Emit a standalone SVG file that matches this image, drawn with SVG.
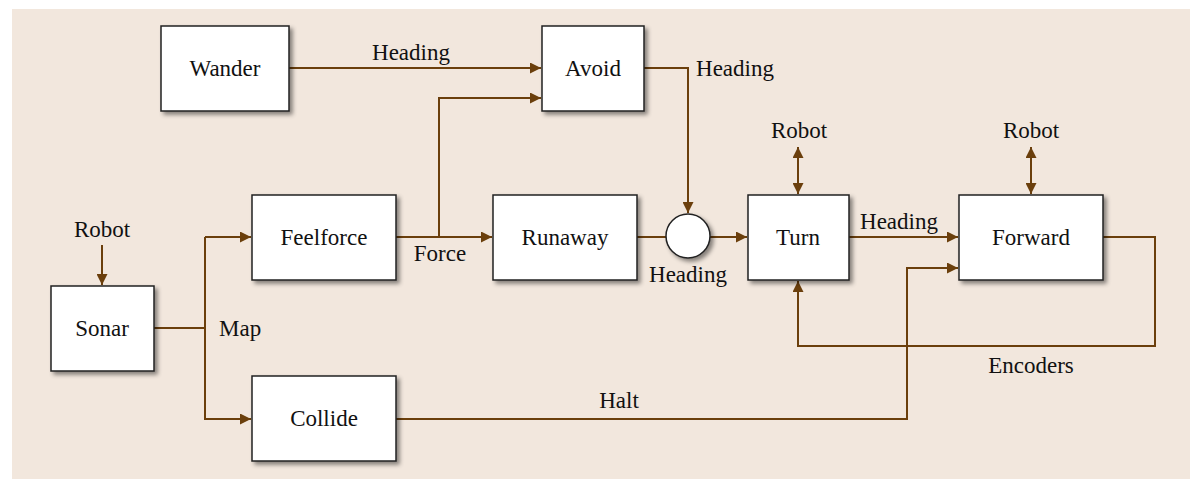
<svg xmlns="http://www.w3.org/2000/svg" width="1197" height="484" viewBox="0 0 1197 484">
<defs>
<filter id="sh" x="-10%" y="-10%" width="130%" height="130%">
<feDropShadow dx="3" dy="3" stdDeviation="2" flood-color="#000" flood-opacity="0.45"/>
</filter>
<marker id="ah" viewBox="0 0 10 10" markerWidth="11" markerHeight="11" markerUnits="userSpaceOnUse" refX="10" refY="5" orient="auto-start-reverse">
<path d="M0,0 L10,5 L0,10 z" fill="#6b3f0c"/>
</marker>
</defs>
<style>
.box{fill:#fff;stroke:#222;stroke-width:1.5;filter:url(#sh)}
.t{font-family:"Liberation Serif","Times New Roman",serif;font-size:23px;fill:#111;text-anchor:middle}
.c{fill:none;stroke:#6b3f0c;stroke-width:2}
.a{marker-end:url(#ah)}
.d{marker-start:url(#ah);marker-end:url(#ah)}
</style>
<rect x="0" y="0" width="1197" height="484" fill="#fff"/>
<rect x="12" y="9" width="1178" height="470" fill="#f2e7dd"/>
<g id="connectors">
<path class="c a" d="M289,68 H541"/>
<path class="c a" d="M396,237 H492"/>
<path class="c a" d="M439,237 V98 H541"/>
<path class="c a" d="M644,68 H688 V213"/>
<path class="c" d="M637,237 H666"/>
<path class="c a" d="M710,237 H747"/>
<path class="c a" d="M849,237 H958"/>
<path class="c d" d="M798,147 V194"/>
<path class="c d" d="M1031,147 V194"/>
<path class="c a" d="M1103,237 H1155 V346 H798 V281"/>
<path class="c a" d="M396,419 H907 V268 H958"/>
<path class="c" d="M154,328 H205"/>
<path class="c a" d="M205,237 V419 H251"/>
<path class="c a" d="M205,237 H251"/>
<path class="c a" d="M102,245 V285"/>
</g>
<g id="labels">
<text class="t" x="411" y="60">Heading</text>
<text class="t" x="735" y="76">Heading</text>
<text class="t" x="799" y="138">Robot</text>
<text class="t" x="1031" y="138">Robot</text>
<text class="t" x="102" y="237">Robot</text>
<text class="t" x="899" y="229">Heading</text>
<text class="t" x="440" y="261">Force</text>
<text class="t" x="688" y="282">Heading</text>
<text class="t" x="219" y="336" style="text-anchor:start">Map</text>
<text class="t" x="619" y="408">Halt</text>
<text class="t" x="1031" y="373">Encoders</text>
</g>
<g id="wander"><rect class="box" x="161" y="26" width="128" height="85"/><text class="t" x="225" y="76">Wander</text></g>
<g id="avoid"><rect class="box" x="542" y="26" width="102" height="85"/><text class="t" x="593" y="76">Avoid</text></g>
<g id="feelforce"><rect class="box" x="252" y="195" width="144" height="85"/><text class="t" x="324" y="245">Feelforce</text></g>
<g id="runaway"><rect class="box" x="493" y="195" width="144" height="85"/><text class="t" x="565" y="245">Runaway</text></g>
<g id="sum"><circle cx="688" cy="236" r="22" fill="#fff" stroke="#222" stroke-width="1.5" filter="url(#sh)"/></g>
<g id="turn"><rect class="box" x="748" y="195" width="101" height="85"/><text class="t" x="798" y="245">Turn</text></g>
<g id="forward"><rect class="box" x="959" y="195" width="144" height="85"/><text class="t" x="1031" y="245">Forward</text></g>
<g id="sonar"><rect class="box" x="51" y="286" width="103" height="85"/><text class="t" x="102" y="336">Sonar</text></g>
<g id="collide"><rect class="box" x="252" y="376" width="144" height="85"/><text class="t" x="324" y="426">Collide</text></g>
</svg>
